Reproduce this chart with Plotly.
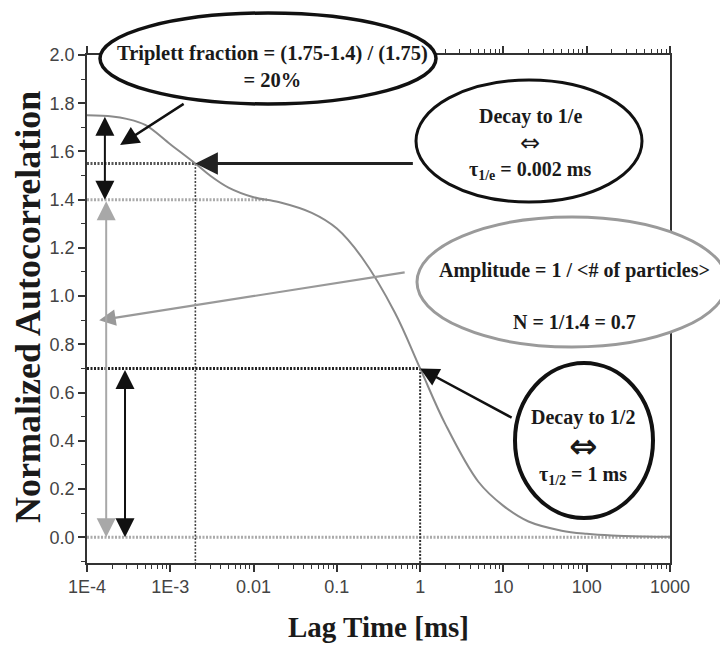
import math
import plotly.graph_objects as go

# ---------------- data ----------------
lag_time_ms = [1e-4, 2e-4, 3e-4, 5e-4, 1e-3, 2e-3, 3e-3, 5e-3, 1e-2, 2e-2,
               5e-2, 0.1, 0.2, 0.5, 1, 2, 5, 10, 20, 50, 100, 200, 500, 1000]
autocorrelation = [1.75, 1.745, 1.735, 1.71, 1.63, 1.55, 1.50, 1.45, 1.41, 1.39,
                   1.345, 1.28, 1.16, 0.93, 0.70, 0.47, 0.23, 0.13, 0.065, 0.027,
                   0.014, 0.007, 0.003, 0.0014]

x_tick_vals = [1e-4, 1e-3, 1e-2, 1e-1, 1, 10, 100, 1000]
x_tick_text = ["1E-4", "1E-3", "0.01", "0.1", "1", "10", "100", "1000"]

# key values shown by the guide lines
g0 = 1.75          # starting amplitude
plateau = 1.4      # amplitude after triplet decay
g_1e = 1.55        # value at triplet decay time
tau_1e = 0.002     # ms
half = 0.7         # half amplitude
tau_half = 1.0     # ms
plateau_end = 0.0145
x_min, x_max = 1e-4, 1000
y_min, y_max = -0.107, 2.0

# ---------------- figure ----------------
fig = go.Figure()

LIGHT = "#ababab"

def guide(xs, ys, color, width, dash):
    fig.add_trace(go.Scatter(x=xs, y=ys, mode="lines", hoverinfo="skip",
                             line=dict(color=color, width=width, dash=dash),
                             showlegend=False))

# guide lines
guide([x_min, x_max], [0, 0], LIGHT, 3, "2px,1.5px")
guide([x_min, plateau_end], [plateau, plateau], LIGHT, 3, "2px,1.5px")
guide([x_min, tau_1e], [g_1e, g_1e], "#555", 3, "2px,1.5px")
guide([tau_1e, tau_1e], [g_1e, y_min], "#444", 1.6, "2px,1.5px")
guide([x_min, tau_half], [half, half], "#222", 3, "2px,1.5px")
guide([tau_half, tau_half], [half, y_min], "#333", 2, "2px,1.5px")

# the autocorrelation curve
fig.add_trace(go.Scatter(x=lag_time_ms, y=autocorrelation, mode="lines",
                         line=dict(color="#8a8a8a", width=2, shape="spline", smoothing=1.0),
                         showlegend=False))

# ---------------- layout helpers (reference pixel -> paper) ----------------
OFF = 8                      # page body margin
W, H = 728 - OFF, 647 - OFF
L, R, T, B = 87, 670, 55, 563
def px(xp):
    return (xp - L) / (R - L)
def py(yp):
    return (B - yp) / (B - T)
lx = math.log10

shapes = []
def ellipse(x0, y0, x1, y1, color, width):
    shapes.append(dict(type="circle", xref="paper", yref="paper",
                       x0=px(x0), x1=px(x1), y0=py(y1), y1=py(y0),
                       line=dict(color=color, width=width), fillcolor="white",
                       layer="above"))

ellipse(100, 13, 436, 104, "#111", 3.5)
ellipse(416, 80, 642, 202, "#111", 3)
ellipse(417, 217, 727, 347, "#9a9a9a", 3)
ellipse(515, 363, 653, 518, "#111", 4)

SERIF = "Liberation Serif, Times New Roman, serif"
annotations = []
def label(text, xc, yc, size=20, family=SERIF, angle=0):
    annotations.append(dict(text=text, xref="paper", yref="paper", x=px(xc), y=py(yc),
                            showarrow=False, xanchor="center", yanchor="middle",
                            textangle=angle,
                            font=dict(family=family, size=size, color="#1a1a1a")))

label("<b>Triplett fraction = (1.75-1.4) / (1.75)<br>= 20%</b>", 272, 67, 20.5)
label("<b>Decay to 1/e</b>", 530, 116)
label("⇔", 530, 143, 24, "DejaVu Sans")
label("<b>τ<sub>1/e</sub> = 0.002 ms</b>", 530, 170)
label("<b>Amplitude = 1 / &lt;# of particles&gt;<br><br>N = 1/1.4 = 0.7</b>", 574, 296)
label("<b>Decay to 1/2</b>", 583, 417)
label("<b>⇔</b>", 583, 446, 34, "DejaVu Sans")
label("<b>τ<sub>1/2</sub> = 1 ms</b>", 583, 475)

# axis titles
label("<b>Lag Time [ms]</b>", 378, 627, 29)
label("<b>Normalized Autocorrelation</b>", 28, 307, 36, angle=-90)

def arrow(x, y, ax, ay, color, width, head=2, size=1.3, side="end", absolute=False):
    a = dict(x=x, y=y, xref="x", yref="y", ax=ax, ay=ay, text="", showarrow=True,
             arrowhead=head, arrowsize=size, arrowwidth=width, arrowcolor=color,
             arrowside=side, standoff=0, startstandoff=0)
    if absolute:
        a.update(axref="x", ayref="y")
    annotations.append(a)

# pointer arrows from the bubbles
arrow(lx(2.5e-4), 1.627, 65, -42, "#111", 2.5, size=1.5)
arrow(lx(tau_1e), g_1e, 219, 0, "#222", 3, size=1.5)
arrow(lx(1.4e-4), 0.90, 307, -48, "#999", 2.2, size=1.5)
arrow(lx(tau_half), half, 93, 50, "#111", 2.5, size=1.5)

# double arrows
arrow(lx(1.64e-4), plateau, lx(1.64e-4), g0, "#111", 2, size=1.9,
      side="end+start", absolute=True)
arrow(lx(1.7e-4), 0.0, lx(1.7e-4), plateau, "#a8a8a8", 2, size=1.9,
      side="end+start", absolute=True)
arrow(lx(2.86e-4), 0.0, lx(2.86e-4), half, "#111", 2, size=1.9,
      side="end+start", absolute=True)

minor_x = [m * 10 ** e for e in range(-4, 3) for m in range(2, 10)]

TICKFONT = dict(family="Liberation Sans Narrow, Arial Narrow, Liberation Sans, Arial",
                size=18, color="#444")

fig.update_layout(
    width=W, height=H,
    margin=dict(l=L - OFF, r=728 - R, t=T - OFF, b=647 - B),
    paper_bgcolor="white", plot_bgcolor="white",
    shapes=shapes, annotations=annotations,
    xaxis=dict(type="log", range=[lx(x_min), lx(x_max)],
               tickvals=x_tick_vals, ticktext=x_tick_text,
               ticks="outside", ticklen=7, tickwidth=1.5, tickcolor="#333",
               showline=True, linewidth=1.5, linecolor="#333", mirror="ticks",
               showgrid=False, zeroline=False, tickfont=TICKFONT,
               minor=dict(tickvals=minor_x, ticks="outside", ticklen=4,
                          tickwidth=1.2, tickcolor="#333", showgrid=False)),
    yaxis=dict(range=[y_min, y_max], tick0=0, dtick=0.2, tickformat=".1f",
               ticks="outside", ticklen=7, tickwidth=1.5, tickcolor="#333",
               showline=True, linewidth=1.5, linecolor="#333", mirror=True,
               showgrid=False, zeroline=False, tickfont=TICKFONT,
               minor=dict(dtick=0.1, ticks="outside", ticklen=4,
                          tickwidth=1.2, tickcolor="#333", showgrid=False)),
)

fig.write_html("out.html")
